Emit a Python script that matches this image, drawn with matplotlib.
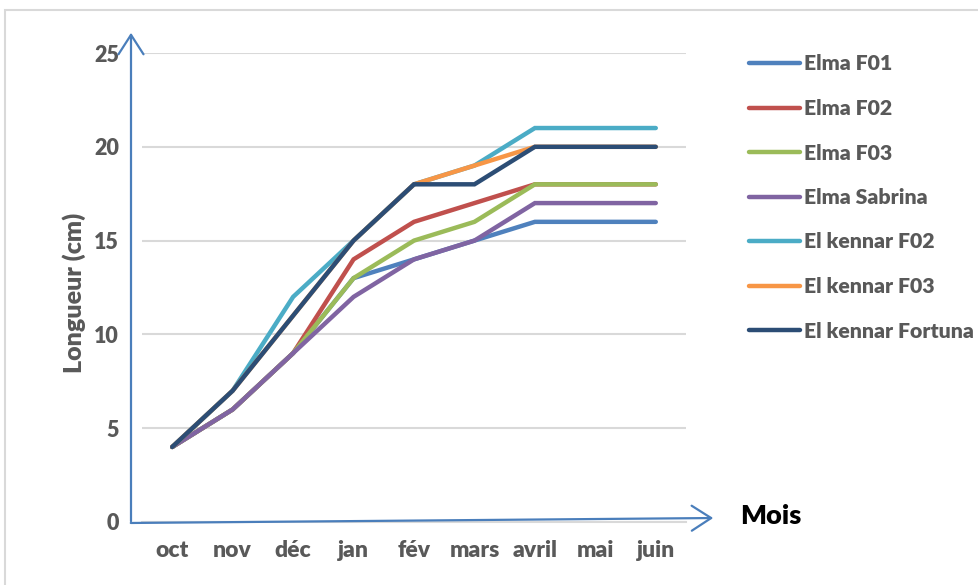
import matplotlib
matplotlib.use("Agg")
import matplotlib.pyplot as plt
from matplotlib.patches import Rectangle, FancyArrowPatch

plt.rcParams['font.family'] = ['Lato', 'DejaVu Sans']

months = ["oct", "nov", "déc", "jan", "fév", "mars", "avril", "mai", "juin"]
series_names = ["Elma F01", "Elma F02", "Elma F03", "Elma Sabrina",
                "El kennar F02", "El kennar F03", "El kennar Fortuna"]
elma_f01 = [4, 6, 9, 13, 14, 15, 16, 16, 16]
elma_f02 = [4, 6, 9, 14, 16, 17, 18, 18, 18]
elma_f03 = [4, 6, 9, 13, 15, 16, 18, 18, 18]
elma_sabrina = [4, 6, 9, 12, 14, 15, 17, 17, 17]
elkennar_f02 = [4, 7, 12, 15, 18, 19, 21, 21, 21]
elkennar_f03 = [4, 7, 11, 15, 18, 19, 20, 20, 20]
elkennar_fortuna = [4, 7, 11, 15, 18, 18, 20, 20, 20]
y_ticks = [0, 5, 10, 15, 20, 25]

values = [elma_f01, elma_f02, elma_f03, elma_sabrina,
          elkennar_f02, elkennar_f03, elkennar_fortuna]
colors = ["#4F81BD", "#C0504D", "#9BBB59", "#8064A2",
          "#4BACC6", "#F79646", "#2C4D75"]

W, H = 979, 585
fig = plt.figure(figsize=(W / 100, H / 100), dpi=100)

# light frame around the chart area
fig.patches.append(Rectangle((5 / W, -0.05), 1.1, 1 - 10 / H + 0.05,
                             transform=fig.transFigure, fill=False,
                             edgecolor="#D9D9D9", linewidth=1.5))

ax = fig.add_axes([142 / W, 1 - 522 / H, (686 - 142) / W, (522 - 53) / H])
x = list(range(len(months)))
for name, vals, c in zip(series_names, values, colors):
    ax.plot(x, vals, color=c, linewidth=3.2, solid_capstyle="round",
            solid_joinstyle="miter", label=name)

ax.set_xlim(-0.5, len(months) - 0.5)
ax.set_ylim(0, 25)
ax.set_yticks(y_ticks)
ax.set_xticks(x)
ax.set_xticklabels(months)
ax.yaxis.grid(True, color="#D9D9D9", linewidth=1.5)
ax.set_axisbelow(True)
for s in ("top", "right", "left"):
    ax.spines[s].set_visible(False)
ax.spines["bottom"].set_color("#D9D9D9")
ax.spines["bottom"].set_linewidth(1.5)
ax.tick_params(axis="both", length=0, labelcolor="#595959")
ax.tick_params(axis="y", pad=16.5, labelsize=15.5)
ax.tick_params(axis="x", pad=13, labelsize=16.5)
for lab in ax.get_xticklabels() + ax.get_yticklabels():
    lab.set_fontweight("heavy")

ax.set_ylabel("Longueur (cm)", fontsize=18, fontweight="heavy",
              color="#595959")
ax.yaxis.set_label_coords(86 / W, 1 - 293 / H, transform=fig.transFigure)

# hand-drawn style axis arrows
def fpt(px, py):
    return (px / W, 1 - py / H)

for start, end in [((131, 524), (131, 30)), ((128, 523), (716, 518))]:
    fig.patches.append(FancyArrowPatch(fpt(*start), fpt(*end),
                                       transform=fig.transFigure,
                                       arrowstyle="->,head_length=14,head_width=9",
                                       color="#4A7EBB", linewidth=1.6,
                                       mutation_scale=1))

fig.text(740 / W, 1 - 516 / H, "Mois", fontsize=19.5, fontweight="heavy",
         color="black", va="center", ha="left")

handles, labels = ax.get_legend_handles_labels()
leg = fig.legend(handles, labels, loc="upper left",
                 bbox_to_anchor=(741 / W, 1 - 46 / H), frameon=False,
                 prop={"size": 15.3, "weight": "heavy"}, labelcolor="#595959",
                 handlelength=2.4, handletextpad=0.15, labelspacing=1.2,
                 borderaxespad=0)

fig.savefig("out.png", dpi=100)
